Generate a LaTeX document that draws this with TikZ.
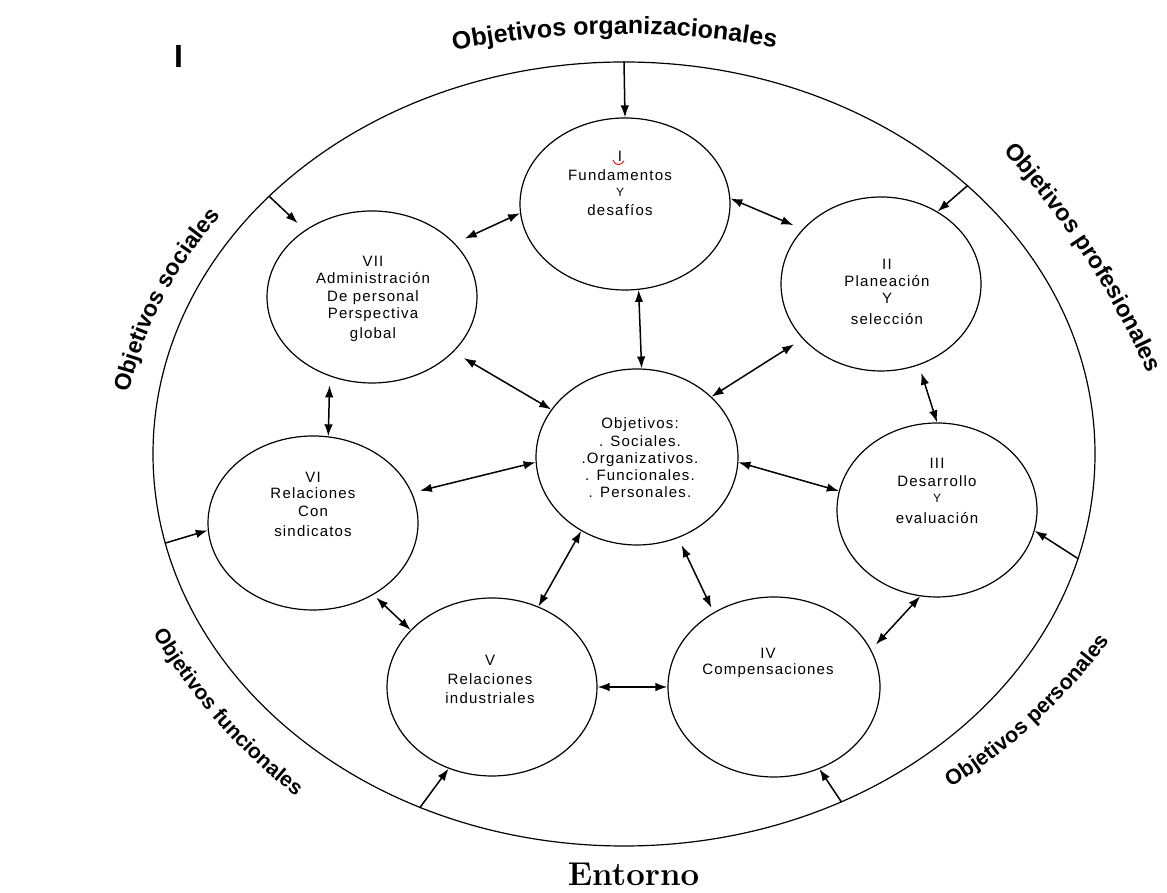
\documentclass[tikz,border=0pt]{standalone}
\usepackage{fontspec}
\newfontfamily\arial{Liberation Sans}
\newfontfamily\circfont[LetterSpace=8]{Liberation Sans}
\usetikzlibrary{shapes.geometric,arrows.meta,decorations.text}

% fonts for the curved captions around the outer ring
\newcommand\arcA{\arial\bfseries\fontsize{25}{25}\selectfont}
\newcommand\arcB{\arial\bfseries\fontsize{23.5}{23.5}\selectfont}
\newcommand\arcC{\arial\bfseries\fontsize{23}{23}\selectfont}
\newcommand\arcD{\arial\bfseries\fontsize{21}{21}\selectfont}
\newcommand\arcE{\arial\bfseries\fontsize{21.5}{21.5}\selectfont}
\newcommand\smallY{{\fontsize{12}{14}\selectfont Y}}

\tikzset{
  ring/.style={draw, ellipse, line width=1.2pt, inner sep=0pt},
  ctext/.style={align=center, inner sep=0pt, font=\circfont\fontsize{15}{17}\selectfont},
  tipshape/.tip={Latex[length=12pt,width=8.5pt]},
  both/.style={tipshape-tipshape, line width=1.5pt},
  inarrow/.style={-tipshape, line width=1.5pt},
  arclabel/.style={decorate, decoration={text along path, text align=center}},
}

\begin{document}
\begin{tikzpicture}[x=1pt,y=1pt]
\useasboundingbox (0,0) rectangle (1167,893);

% outer ring
\node[ring, minimum width=942, minimum height=784] (O) at (624,439) {};

% the eight circles
\node[ring, minimum width=210, minimum height=172] (I)   at (625,689) {};
\node[ring, minimum width=210, minimum height=172] (VII) at (372,596) {};
\node[ring, minimum width=210, minimum height=174] (VI)  at (313,370) {};
\node[ring, minimum width=202, minimum height=176] (C)   at (637,436) {};
\node[ring, minimum width=200, minimum height=174] (II)  at (881,609) {};
\node[ring, minimum width=200, minimum height=174] (III) at (937,383) {};
\node[ring, minimum width=212, minimum height=180] (IV)  at (774,206) {};
\node[ring, minimum width=210, minimum height=178] (V)   at (492,206) {};

% circle texts
\node[ctext] (tI) at (620,710) {I\\[2pt]Fundamentos\\[-1pt]\smallY\\[2pt]desafíos};
\node[ctext] (tVII) at (373,594) {VII\\Administración\\[1pt]De personal\\Perspectiva\\[3pt]global};
\node[ctext] (tVI) at (313,389) {VI\\[-1pt]Relaciones\\[1pt]Con\\[3pt]sindicatos};
\node[ctext] (tII) at (887,601.5) {II\\Planeación\\Y\\[4pt]selección};
\node[ctext] (tIII) at (937,402.5) {III\\[1pt]Desarrollo\\[-1pt]\smallY\\[4pt]evaluación};
\node[ctext] (tC) at (640,435.5) {Objetivos:\\[1pt]. Sociales.\\.Organizativos.\\. Funcionales.\\. Personales.};
\node[ctext] (tIV) at (768,230) {IV\\[-1pt]Compensaciones};
\node[ctext] (tV) at (490,213.5) {V\\[2pt]Relaciones\\[2pt]industriales};

% red squiggle under the numeral
\draw[red, line width=0.9pt] (613,733) .. controls (615,727) and (621,727) .. (624,732);

% arrows between circles
\draw[both, shorten >=11pt] (I.185) -- (VII.33);
\draw[both, shorten >=10pt] (I.3) -- (II.145);
\draw[both] (I.279) -- (C.87);
\draw[both, shorten <=12pt] (VII.326) -- (C.151);
\draw[both, shorten <=10pt] (II.215) -- (C.39);
\draw[both, shorten <=8pt] (II.295) -- (III.90);
\draw[both, shorten <=9pt] (VII.242) -- (VI.80);
\draw[both, shorten >=8pt] (C.183) -- (VI.17);
\draw[both] (C.357) -- (III.169);
\draw[both] (C.233) -- (V.60);
\draw[both, shorten <=8pt, shorten >=5pt] (C.297) -- (IV.129);
\draw[both, shorten >=7pt] (III.259) -- (IV.21);
\draw[both, shorten <=4pt] (VI.310) -- (V.145);
\draw[both] (V.0) -- (IV.180);

% arrows from the outer ring inward
\draw[inarrow] (O.90) -- (I.90);
\draw[inarrow, shorten >=10pt] (O.144) -- (VII.135);
\draw[inarrow] (O.38) -- (II.52);
\draw[inarrow] (O.191) -- (VI.184);
\draw[inarrow] (O.347) -- (III.348);
\draw[inarrow] (O.240) -- (V.242);
\draw[inarrow] (O.302) -- (IV.299);

% curved captions
\path[arclabel, decoration={text={|\arcA|Objetivos organizacionales}}]
  (622,-4) ++(108:863) arc[start angle=108, end angle=73, radius=863];
\path[arclabel, decoration={text={|\arcB|Objetivos profesionales}}]
  (392,186) ++(58.05:826) arc[start angle=58.05, end angle=8.05, radius=826];
\path[arclabel, decoration={text={|\arcC|Objetivos sociales}}]
  (522,408) ++(187.5:404) arc[start angle=187.5, end angle=117.5, radius=404];
\path[arclabel, decoration={text={|\arcD|Objetivos funcionales}}]
  (641,544) ++(191.3:565) arc[start angle=191.3, end angle=251.3, radius=565];
\path[arclabel, decoration={text={|\arcE|Objetivos personales}}]
  (663,577) ++(282.7:552) arc[start angle=282.7, end angle=342.7, radius=552];

% bottom caption and the mark at the top left
\node[inner sep=0pt, font=\rmfamily\bfseries\fontsize{33}{33}\selectfont] (ent) at (633.5,19) {Entorno};
\node[inner sep=0pt, font=\arial\bfseries\fontsize{32}{32}\selectfont] (mark) at (178.5,836.5) {I};
\end{tikzpicture}
\end{document}
